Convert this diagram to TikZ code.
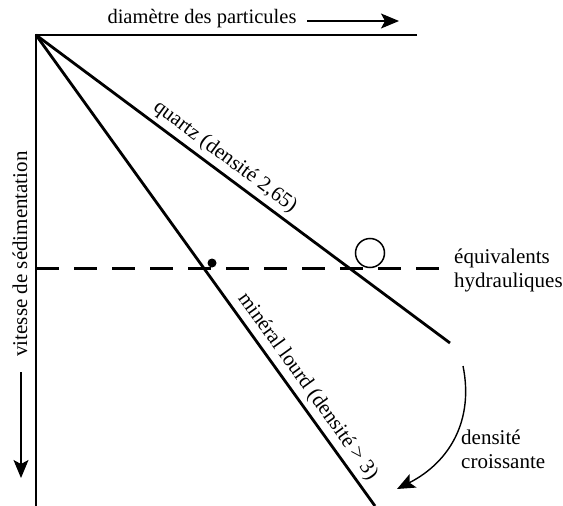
\documentclass[tikz,border=0pt]{standalone}
\usepackage{fontspec}
\setmainfont{Liberation Serif}
\usetikzlibrary{arrows.meta}
\tikzset{
  axisline/.style={line width=2.6pt},
  grainline/.style={line width=2.8pt},
  sensearrow/.style={-{Stealth[length=18pt,width=15pt,inset=4pt]}, line width=1.2pt},
  sedlabel/.style={font=\fontsize{21}{24}\selectfont, inner sep=1pt, align=left}
}
\begin{document}
\begin{tikzpicture}[x=1pt, y=-1pt]
  \useasboundingbox (0,0) rectangle (563,506);
  % axes
  \coordinate (O) at (36,35);
  \coordinate (xend) at (417,35);
  \coordinate (yend) at (36,506);
  \draw[axisline] (xend) -- (O) -- (yend);

  \node[sedlabel, font=\fontsize{20.5}{24}\selectfont] (diam) at (202,19) {diamètre des particules};
  \coordinate (diamA) at (307,21);
  \coordinate (diamB) at (399,21);
  \draw[sensearrow] (diamA) -- (diamB);

  \node[sedlabel, rotate=90] (vit) at (20,254) {vitesse de sédimentation};
  \coordinate (vitA) at (21,372);
  \coordinate (vitB) at (21,478);
  \draw[sensearrow] (vitA) -- (vitB);

  % droites des mineraux
  \coordinate (qend) at (450,343);
  \coordinate (lend) at (375,506);
  \draw[grainline] (O) -- node[sedlabel, pos=0.435, sloped, above=3pt] (quartz) {quartz (densité 2,65)} (qend);
  \draw[grainline] (O) -- node[sedlabel, pos=0.765, sloped, above=3pt] (lourd) {minéral lourd (densité > 3)} (lend);

  % equivalents hydrauliques
  \coordinate (hA) at (36,268);
  \coordinate (hB) at (452,268);
  \draw[line width=3pt, dash pattern=on 23pt off 15pt] (hA) -- (hB);
  \node[sedlabel, anchor=west, inner sep=0pt] (equiv) at (454,270) {équivalents\\hydrauliques};
  \node[circle, draw, line width=1.5pt, minimum size=29pt, inner sep=0pt] (grosgrain) at (370,253) {};
  \node[circle, fill, minimum size=9pt, inner sep=0pt] (petitgrain) at (212,263) {};

  % densite croissante
  \coordinate (dA) at (463,366);
  \coordinate (dB) at (397,489);
  \draw[sensearrow, line width=1.4pt] (dA) .. controls (474,420) and (450,462) .. (dB);
  \node[sedlabel, anchor=west, inner sep=0pt] (dens) at (461,449) {densité\\croissante};
\end{tikzpicture}
\end{document}
